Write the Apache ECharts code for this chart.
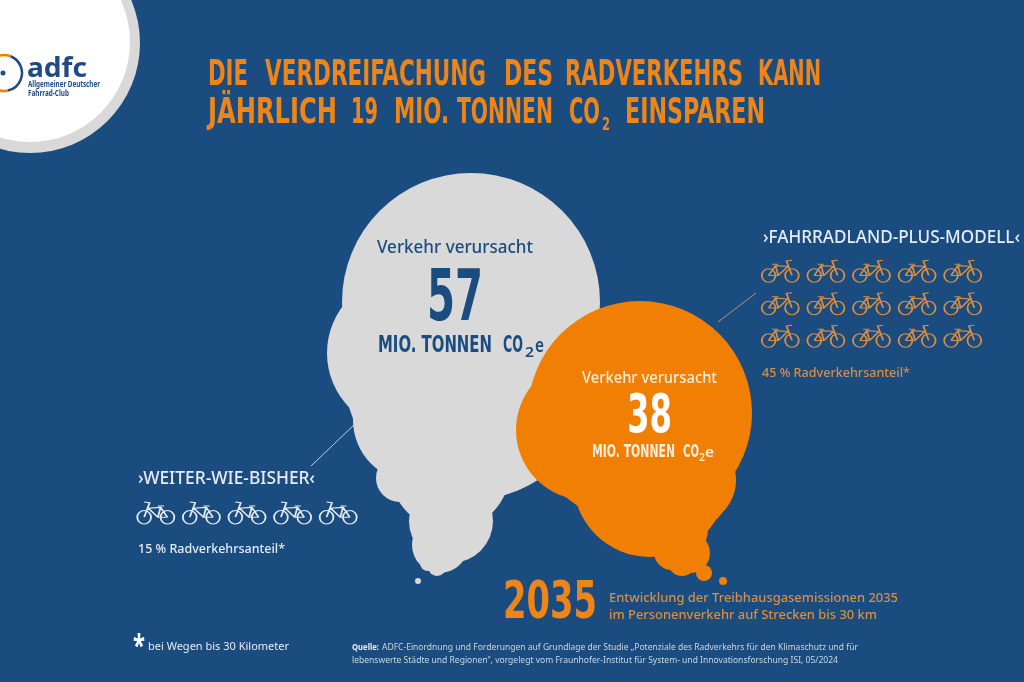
<!DOCTYPE html>
<html>
<head>
<meta charset="utf-8">
<style>html,body{margin:0;padding:0;background:#1a4c80}#chart{width:1024px;height:682px}</style>
<script src="https://cdn.jsdelivr.net/npm/echarts@6/dist/echarts.min.js"></script>
</head>
<body>
<div id="chart"></div>
<script>
// data
const scenarios = ['WEITER-WIE-BISHER', 'FAHRRADLAND-PLUS-MODELL']
const emissions = [57, 38]
const cyclingShare = [15, 45]
const sharePerBike = 3
const bikesPerRow = 5
const year = '2035'
const bubbleLabel = 'Verkehr verursacht'
const unitLabel = 'MIO. TONNEN'
const shareLabel = '% Radverkehrsanteil*'
const titleLine1 = ['DIE', 'VERDREIFACHUNG', 'DES', 'RADVERKEHRS', 'KANN']
const titleLine2 = ['JÄHRLICH', '19', 'MIO.', 'TONNEN', 'CO', 'EINSPAREN']
const captionLines = ['Entwicklung der Treibhausgasemissionen 2035', 'im Personenverkehr auf Strecken bis 30 km']
const footnote = 'bei Wegen bis 30 Kilometer'
const sourceLines = [
  'ADFC-Einordnung und Forderungen auf Grundlage der Studie „Potenziale des Radverkehrs für den Klimaschutz und für',
  'lebenswerte Städte und Regionen“, vorgelegt vom Fraunhofer-Institut für System- und Innovationsforschung ISI, 05/2024'
]

// colours and fonts
const BG = '#1a4c80', GREY = '#d9d9d9', ORANGE = '#f07f03', TITLE = '#ee8518', SOFT = '#d98f42', PALE = '#e6ecf2'
const NARROW = '"Liberation Sans Narrow","DejaVu Sans Condensed",sans-serif'
const ROUND = '"Noto Sans",sans-serif'

// layout: cloud puffs around the two main bubbles, [x, y, r] in page pixels
const greyPuffs = [[405, 353, 78], [470, 375, 125], [415, 420, 62], [400, 478, 24], [450, 470, 60], [451, 521, 42],
  [440, 545, 28], [428, 563, 8], [437, 567, 9], [450, 558, 10], [418, 581, 3]]
const orangePuffs = [[586, 430, 70], [650, 480, 77], [690, 480, 46], [702, 503, 22], [680, 530, 28], [690, 553, 20],
  [672, 552, 18], [682, 562, 14], [704, 573, 8], [723, 581, 4]]
const bubbleCentres = [[471, 302], [640, 413]]

const measure = document.createElement('canvas').getContext('2d')

// text squeezed to the width it has in the picture, placed on its baseline
function fit(text, x1, x2, base, size, family, weight, fill) {
  const font = `${weight} ${size}px ${family}`
  measure.font = font
  measure.textBaseline = 'middle'
  const drop = measure.measureText('H').actualBoundingBoxDescent
  return {
    type: 'text', z: 20, x: x1, y: base - drop, scaleX: (x2 - x1) / measure.measureText(text).width,
    style: { text, font, fill, textAlign: 'left', textVerticalAlign: 'middle' }
  }
}

function puffs(list, fill, z) {
  return list.map(([cx, cy, r]) => ({ type: 'circle', z, shape: { cx, cy, r }, style: { fill } }))
}

function bikePath(flip) {
  const X = x => (flip ? 112 - x : x)
  const wheel = (cx, cy, r) => `M${X(cx) - r} ${cy}a${r} ${r} 0 1 0 ${2 * r} 0a${r} ${r} 0 1 0 ${-2 * r} 0`
  const line = pts => 'M' + pts.map(([x, y]) => `${X(x)} ${y}`).join('L')
  return 'path://' + wheel(22, 47, 20) + wheel(90, 47, 20) +
    line([[22, 47], [42, 18], [78, 20], [50, 47], [22, 47]]) +
    line([[42, 18], [50, 47]]) +
    line([[90, 47], [74, 4], [90, 2]]) +
    line([[32, 14], [50, 14]])
}

function bikeData(share) {
  const n = share / sharePerBike
  const out = []
  for (let i = 0; i < n; i++) out.push([i % bikesPerRow, Math.floor(i / bikesPerRow)])
  return out
}

const titleSpans1 = [[208, 248], [265, 486], [504, 553], [565, 743], [758, 821]]
const titleSpans2 = [[208, 337], [351, 378], [394, 449], [457, 553], [569, 600], [625, 765]]

const graphics = [
  // logo
  { type: 'circle', z: 1, shape: { cx: 30, cy: 43, r: 110 }, style: { fill: GREY } },
  { type: 'circle', z: 1, shape: { cx: 30, cy: 42, r: 100 }, style: { fill: '#fff' } },
  { type: 'arc', z: 2, shape: { cx: 4, cy: 73, r: 18, startAngle: -1.2, endAngle: 1.35 }, style: { stroke: '#1f4a85', lineWidth: 2.5, fill: 'none' } },
  { type: 'arc', z: 2, shape: { cx: 4, cy: 73, r: 18, startAngle: -2.6, endAngle: -1.2 }, style: { stroke: ORANGE, lineWidth: 2.5, fill: 'none' } },
  { type: 'arc', z: 2, shape: { cx: 4, cy: 73, r: 18, startAngle: 1.35, endAngle: 2.2 }, style: { stroke: ORANGE, lineWidth: 2.5, fill: 'none' } },
  { type: 'circle', z: 2, shape: { cx: 3, cy: 73, r: 2.5 }, style: { fill: '#1f4a85' } },
  fit('adfc', 27, 87, 77, 27, ROUND, 700, '#1f4a85'),
  fit('Allgemeiner Deutscher', 28, 100, 87, 8, ROUND, 700, '#1f4a85'),
  fit('Fahrrad-Club', 28, 69, 96, 8, ROUND, 700, '#1f4a85'),

  // clouds
  ...puffs(greyPuffs, GREY, 3),
  ...puffs(orangePuffs, ORANGE, 5),

  // leader lines
  { type: 'line', z: 2, shape: { x1: 311, y1: 466, x2: 356, y2: 423 }, style: { stroke: '#c4ccd4', lineWidth: 1 } },
  { type: 'line', z: 2, shape: { x1: 718, y1: 322, x2: 756, y2: 293 }, style: { stroke: '#b4976f', lineWidth: 1 } },

  // title
  ...titleLine1.map((w, i) => fit(w, titleSpans1[i][0], titleSpans1[i][1], 85, 36, NARROW, 700, TITLE)),
  ...titleLine2.map((w, i) => fit(w, titleSpans2[i][0], titleSpans2[i][1], 123, 36, NARROW, 700, TITLE)),
  fit('2', 602, 610, 130, 17, NARROW, 700, TITLE),

  // grey bubble text
  fit(bubbleLabel, 377, 533, 253, 18, ROUND, 500, BG),
  fit(String(emissions[0]), 427, 483, 320, 72, NARROW, 700, BG),
  fit(unitLabel, 378, 492, 352, 23, NARROW, 700, BG),
  fit('CO', 503, 523, 352, 23, NARROW, 700, BG),
  fit('2', 525, 534, 357, 14, ROUND, 600, BG),
  fit('e', 535, 544, 352, 19, ROUND, 600, BG),

  // orange bubble text
  fit(bubbleLabel, 582, 717, 383, 15.5, ROUND, 500, '#fbeedd'),
  fit(String(emissions[1]), 627, 672, 433, 53, NARROW, 700, '#fff'),
  fit(unitLabel, 592, 675, 457, 18, NARROW, 700, '#fbeedd'),
  fit('CO', 683, 699, 457, 18, NARROW, 700, '#fbeedd'),
  fit('2', 699, 705, 461, 10, ROUND, 600, '#fbeedd'),
  fit('e', 705, 714, 457, 15, ROUND, 600, '#fbeedd'),

  // scenario headings and shares
  fit(`›${scenarios[0]}‹`, 138, 315, 484, 17.5, ROUND, 500, PALE),
  fit(`›${scenarios[1]}‹`, 763, 1020, 243, 17.5, ROUND, 500, PALE),
  fit(`${cyclingShare[0]} ${shareLabel}`, 138, 285, 553, 12, ROUND, 500, PALE),
  fit(`${cyclingShare[1]} ${shareLabel}`, 762, 910, 377, 12, ROUND, 500, SOFT),

  // year and caption
  fit(year, 503, 597, 618, 52, NARROW, 700, TITLE),
  fit(captionLines[0], 609, 898, 602, 12.5, ROUND, 500, SOFT),
  fit(captionLines[1], 609, 877, 619, 12.5, ROUND, 500, SOFT),

  // footnote and source
  fit('*', 133, 145, 656, 30, ROUND, 700, '#fff'),
  fit(footnote, 148, 289, 650, 11, ROUND, 400, PALE),
  fit('Quelle:', 352, 379, 650, 8.5, ROUND, 700, PALE),
  fit(sourceLines[0], 382, 858, 650, 8.5, ROUND, 400, '#ccd6e0'),
  fit(sourceLines[1], 352, 838, 663, 8.5, ROUND, 400, '#ccd6e0')
]

const hiddenValue = (extra) => Object.assign({ type: 'value', show: false, splitLine: { show: false } }, extra)

const chart = echarts.init(document.getElementById('chart'))
chart.setOption({
  backgroundColor: BG,
  animation: false,
  grid: [
    { left: 0, top: 0, width: 1024, height: 682 },
    { left: 133, top: 497, width: 228, height: 32 },
    { left: 757.5, top: 255, width: 228, height: 97.5 }
  ],
  xAxis: [
    hiddenValue({ gridIndex: 0, min: 0, max: 1024 }),
    hiddenValue({ gridIndex: 1, min: -0.5, max: 4.5 }),
    hiddenValue({ gridIndex: 2, min: -0.5, max: 4.5 })
  ],
  yAxis: [
    hiddenValue({ gridIndex: 0, min: 0, max: 682, inverse: true }),
    hiddenValue({ gridIndex: 1, min: -0.5, max: 0.5, inverse: true }),
    hiddenValue({ gridIndex: 2, min: -0.5, max: 2.5, inverse: true })
  ],
  graphic: { elements: graphics },
  series: [
    {
      type: 'scatter', z: 4, xAxisIndex: 0, yAxisIndex: 0, silent: true,
      data: [{ value: bubbleCentres[0], emission: emissions[0] }],
      symbolSize: 258,
      itemStyle: { color: GREY, opacity: 1 }
    },
    {
      type: 'scatter', z: 6, xAxisIndex: 0, yAxisIndex: 0, silent: true,
      data: [{ value: bubbleCentres[1], emission: emissions[1] }],
      symbolSize: 224,
      itemStyle: { color: ORANGE, opacity: 1 }
    },
    {
      type: 'scatter', z: 7, xAxisIndex: 1, yAxisIndex: 1, silent: true,
      data: bikeData(cyclingShare[0]),
      symbol: bikePath(true), symbolSize: [37, 22],
      itemStyle: { color: 'transparent', borderColor: PALE, borderWidth: 1.4, opacity: 1 }
    },
    {
      type: 'scatter', z: 7, xAxisIndex: 2, yAxisIndex: 2, silent: true,
      data: bikeData(cyclingShare[1]),
      symbol: bikePath(false), symbolSize: [37, 22],
      itemStyle: { color: 'transparent', borderColor: SOFT, borderWidth: 1.4, opacity: 1 }
    }
  ]
})
</script>
</body>
</html>
